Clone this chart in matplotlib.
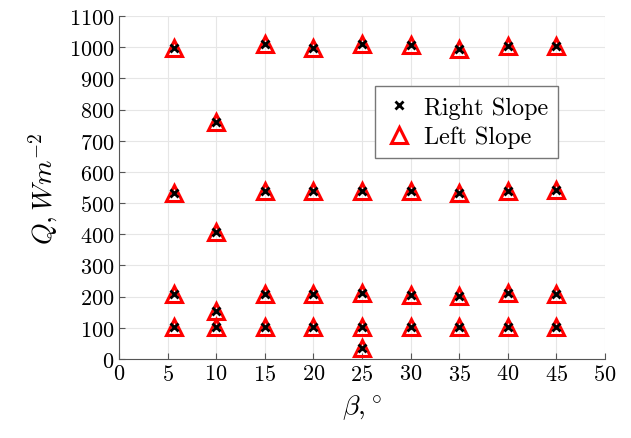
import matplotlib.pyplot as plt

plt.rcParams["font.family"] = "serif"
plt.rcParams["font.serif"] = ["cmr10"]
plt.rcParams["mathtext.fontset"] = "cm"
plt.rcParams["axes.formatter.use_mathtext"] = True

# slope angle (deg) and heat flux readings
beta = [5.7, 5.7, 5.7, 5.7,
        10, 10, 10, 10,
        15, 15, 15, 15,
        20, 20, 20, 20,
        25, 25, 25, 25, 25,
        30, 30, 30, 30,
        35, 35, 35, 35,
        40, 40, 40, 40,
        45, 45, 45, 45]
q_right = [997, 531, 208, 104,
           761, 408, 155, 104,
           1010, 539, 210, 104,
           997, 538, 210, 104,
           1010, 538, 211, 104, 34,
           1007, 540, 205, 104,
           993, 532, 203, 104,
           1004, 538, 211, 104,
           1003, 543, 210, 104]
q_left = [997, 531, 208, 104,
          761, 408, 155, 104,
          1010, 539, 210, 104,
          997, 538, 210, 104,
          1010, 538, 211, 104, 34,
          1007, 540, 205, 104,
          993, 532, 203, 104,
          1004, 538, 211, 104,
          1003, 543, 210, 104]

fig = plt.figure(figsize=(6.31, 4.39), dpi=100)
ax = fig.add_axes([0.1886, 0.18, 0.770, 0.781])

ax.plot(beta, q_left, linestyle="none", marker="^", markersize=11,
        markerfacecolor="none", markeredgecolor="red", markeredgewidth=2.2,
        label="Left Slope", zorder=3)
ax.plot(beta, q_right, linestyle="none", marker="x", markersize=6,
        color="black", markeredgewidth=2, label="Right Slope", zorder=4)

ax.set_xlim(0, 50)
ax.set_ylim(0, 1100)
ax.set_xticks(range(0, 51, 5))
ax.set_yticks(range(0, 1101, 100))
ax.tick_params(labelsize=16, direction="in", length=4, color="#555555")
ax.grid(True, color="#e6e6e6", linewidth=0.8)
ax.set_axisbelow(True)
for side in ["top", "right"]:
    ax.spines[side].set_visible(False)
for side in ["left", "bottom"]:
    ax.spines[side].set_color("#555555")
    ax.spines[side].set_linewidth(0.8)

ax.set_xlabel(r"$\beta,^{\circ}$", fontsize=20, labelpad=6)
ax.set_ylabel(r"$Q, Wm^{-2}$", fontsize=20, labelpad=6)

handles, labels = ax.get_legend_handles_labels()
ax.legend(handles[::-1], labels[::-1], loc="upper left",
          bbox_to_anchor=(0.527, 0.795), fontsize=17.5, fancybox=False,
          edgecolor="#777777", framealpha=1, handletextpad=0.4,
          borderaxespad=0, handlelength=1.2, labelspacing=0.3,
          borderpad=0.4)

fig.savefig("out.png", dpi=100)
